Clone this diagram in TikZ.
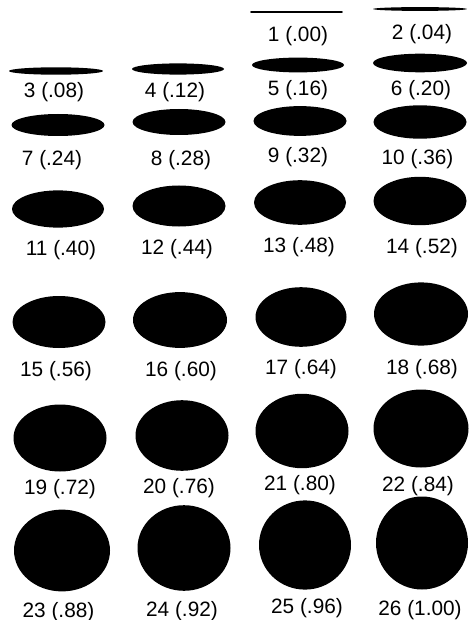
\documentclass[tikz,border=0pt]{standalone}
\usepackage{fontspec}
\setmainfont{Liberation Sans}
\begin{document}
\begin{tikzpicture}[x=1pt,y=-1pt,line cap=round,line join=round,
  lbl/.style={anchor=base,inner sep=0pt,font=\fontsize{20.8}{24}\selectfont}]
  \useasboundingbox (0,0) rectangle (469,620);
  \draw[line width=1.6pt] (251,12) -- (342,12);
  \fill (420,9) ellipse (47 and 1.9);
  \fill (56,71) ellipse (47 and 3.7);
  \fill (178,69) ellipse (46 and 5.6);
  \fill (298,65) ellipse (46 and 7.4);
  \fill (420,63) ellipse (47 and 9.3);
  \fill (58,125) ellipse (46.5 and 11);
  \fill (179,122) ellipse (46.5 and 13);
  \fill (300,121) ellipse (46.5 and 14.9);
  \fill (420,122) ellipse (46.5 and 16.7);
  \fill (58,209) ellipse (46 and 18.6);
  \fill (179,206) ellipse (46.5 and 20.5);
  \fill (300,202.5) ellipse (46 and 22.3);
  \fill (420,201) ellipse (46.5 and 24.2);
  \fill (59,322) ellipse (46.5 and 26);
  \fill (180,320) ellipse (47 and 27.9);
  \fill (301,317) ellipse (45.5 and 29.8);
  \fill (421,314) ellipse (47 and 31.6);
  \fill (60,438) ellipse (46.5 and 33.5);
  \fill (182,435.5) ellipse (46.5 and 35.3);
  \fill (302,431) ellipse (46.5 and 37.2);
  \fill (421,428.5) ellipse (47.5 and 39);
  \fill (62,550.5) ellipse (48 and 40.9);
  \fill (184,548) ellipse (46.5 and 42.8);
  \fill (305,545) ellipse (46 and 44.6);
  \fill (422,543) ellipse (46 and 46.5);
  \node[lbl] (n1) at (298,42) {1 (.00)};
  \node[lbl] (n2) at (422,40) {2 (.04)};
  \node[lbl] (n3) at (54,98) {3 (.08)};
  \node[lbl] (n4) at (175,98) {4 (.12)};
  \node[lbl] (n5) at (298,96) {5 (.16)};
  \node[lbl] (n6) at (421,96) {6 (.20)};
  \node[lbl] (n7) at (52,166) {7 (.24)};
  \node[lbl] (n8) at (181,166) {8 (.28)};
  \node[lbl] (n9) at (298,163) {9 (.32)};
  \node[lbl] (n10) at (417.5,165) {10 (.36)};
  \node[lbl] (n11) at (61,255) {11 (.40)};
  \node[lbl] (n12) at (177,254) {12 (.44)};
  \node[lbl] (n13) at (299,252) {13 (.48)};
  \node[lbl] (n14) at (422,253) {14 (.52)};
  \node[lbl] (n15) at (56,376) {15 (.56)};
  \node[lbl] (n16) at (181,376) {16 (.60)};
  \node[lbl] (n17) at (301,374) {17 (.64)};
  \node[lbl] (n18) at (422,374) {18 (.68)};
  \node[lbl] (n19) at (60,494) {19 (.72)};
  \node[lbl] (n20) at (179,493) {20 (.76)};
  \node[lbl] (n21) at (300,490) {21 (.80)};
  \node[lbl] (n22) at (418,491) {22 (.84)};
  \node[lbl] (n23) at (58.5,617) {23 (.88)};
  \node[lbl] (n24) at (182,616) {24 (.92)};
  \node[lbl] (n25) at (307,613) {25 (.96)};
  \node[lbl] (n26) at (420,615) {26 (1.00)};
\end{tikzpicture}
\end{document}
